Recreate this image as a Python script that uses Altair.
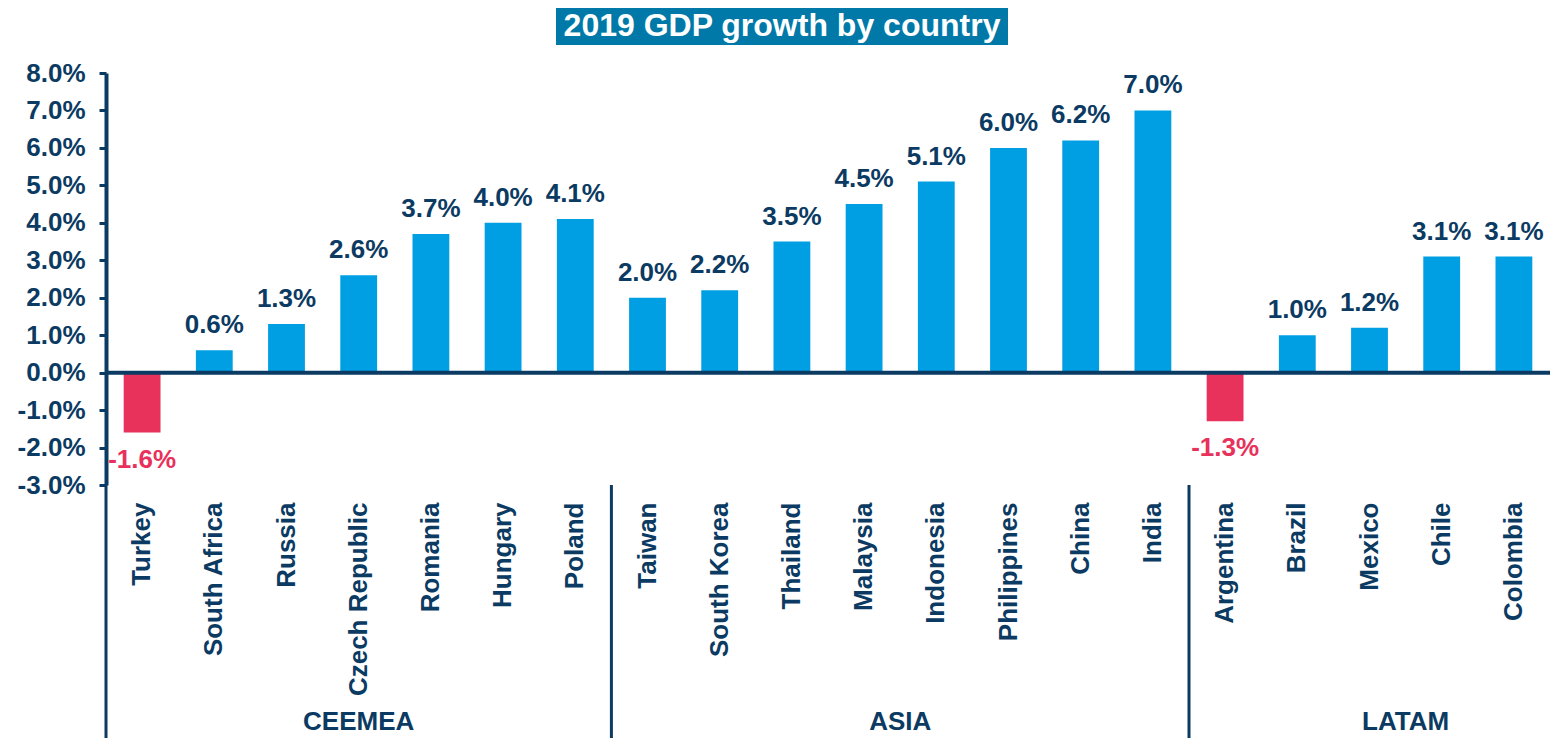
import altair as alt
import pandas as pd

# ---------------- data ----------------
countries = ["Turkey", "South Africa", "Russia", "Czech Republic", "Romania", "Hungary", "Poland",
             "Taiwan", "South Korea", "Thailand", "Malaysia", "Indonesia", "Philippines", "China", "India",
             "Argentina", "Brazil", "Mexico", "Chile", "Colombia"]
growth = [-1.6, 0.6, 1.3, 2.6, 3.7, 4.0, 4.1,
          2.0, 2.2, 3.5, 4.5, 5.1, 6.0, 6.2, 7.0,
          -1.3, 1.0, 1.2, 3.1, 3.1]
regions = ["CEEMEA"] * 7 + ["ASIA"] * 8 + ["LATAM"] * 5

group_names = ["CEEMEA", "ASIA", "LATAM"]
group_anchor = ["Czech Republic", "Malaysia", "Mexico"]
group_band_pos = [0.5, 1.0, 1.0]
group_first = ["Turkey", "Taiwan", "Argentina"]

y_ticks = [-3, -2, -1, 0, 1, 2, 3, 4, 5, 6, 7, 8]
title_text = "2019 GDP growth by country"

# ---------------- style ----------------
NAVY = "#0b3a62"
BLUE = "#009fe3"
RED = "#e8315b"
TITLE_BG = "#0079a8"
FONT = "Liberation Sans"
FS = 26

W, H = 1444, 412

df = pd.DataFrame({"country": countries, "growth": growth, "region": regions})
df["sign"] = ["neg" if v < 0 else "pos" for v in growth]

xscale = alt.Scale(domain=countries, paddingInner=0, paddingOuter=0)
yscale = alt.Scale(domain=[-3, 8], nice=False, zero=False)

pct_expr_axis = "replace(format(datum.value, '.1f'), '\u2212', '-') + '%'"
pct_expr_lab = "replace(format(datum.growth, '.1f'), '\u2212', '-') + '%'"

xaxis = alt.Axis(title=None, domain=False, ticks=False, labelAngle=-90,
                 labelPadding=17, labelFontSize=FS, labelFontWeight="bold",
                 labelColor=NAVY, labelFont=FONT, labelLimit=400,
                 labelOverlap=False)
yaxis = alt.Axis(title=None, values=y_ticks, grid=False,
                 labelExpr=pct_expr_axis, labelOverlap=False, labelBound=False,
                 labelFontSize=FS, labelFontWeight="bold", labelColor=NAVY,
                 labelFont=FONT, labelPadding=14, tickSize=7, tickWidth=3,
                 tickColor=NAVY, domainColor=NAVY, domainWidth=4)


def xq(field="country", bp=None):
    kw = {}
    if bp is not None:
        kw["bandPosition"] = bp
    return alt.X(f"{field}:N", scale=xscale, sort=None, axis=xaxis, **kw)


def yq(field):
    return alt.Y(f"{field}:Q", scale=yscale, axis=yaxis)


base = alt.Chart(df)

bars = base.mark_bar(width=alt.RelativeBandSize(0.51)).encode(
    x=xq(),
    y=yq("growth"),
    color=alt.Color("sign:N", scale=alt.Scale(domain=["pos", "neg"], range=[BLUE, RED]),
                    legend=None),
)

pos_labels = base.transform_filter("datum.growth >= 0").transform_calculate(
    label=pct_expr_lab
).mark_text(font=FONT, fontSize=FS, fontWeight="bold", color=NAVY,
            baseline="alphabetic", dy=-17).encode(
    x=xq(), y=yq("growth"), text="label:N",
)

neg_labels = base.transform_filter("datum.growth < 0").transform_calculate(
    label=pct_expr_lab
).mark_text(font=FONT, fontSize=FS, fontWeight="bold", color=RED,
            baseline="alphabetic", dy=35).encode(
    x=xq(), y=yq("growth"), text="label:N",
)

zero_line = alt.Chart(pd.DataFrame({"z": [0]})).mark_rule(
    color=NAVY, strokeWidth=4).encode(y=yq("z"))

sep_df = pd.DataFrame({"country": group_first, "y0": [-3] * 3, "y1": [-10] * 3})
separators = alt.Chart(sep_df).mark_rule(color=NAVY, strokeWidth=3).encode(
    x=xq(bp=0), y=yq("y0"), y2="y1:Q",
)

group_layers = []
for name, anchor, bp in zip(group_names, group_anchor, group_band_pos):
    gdf = pd.DataFrame({"country": [anchor], "name": [name], "gy": [-9.55]})
    group_layers.append(
        alt.Chart(gdf).mark_text(font=FONT, fontSize=FS, fontWeight="bold", color=NAVY,
                                 baseline="alphabetic", align="center").encode(
            x=xq(bp=bp), y=yq("gy"), text="name:N",
        )
    )

tdf = pd.DataFrame({"t": [title_text]})
title_box = alt.Chart(tdf).mark_rect(color=TITLE_BG).encode(
    x=alt.value(450), x2=alt.value(902), y=alt.value(-72), y2=alt.value(-28))
title_txt = alt.Chart(tdf).mark_text(font=FONT, fontSize=32, fontWeight="bold",
                                     color="white", baseline="middle", align="center").encode(
    x=alt.value(676), y=alt.value(-47), text="t:N")

chart = alt.layer(
    bars, zero_line, separators, pos_labels, neg_labels, *group_layers, title_box, title_txt
).properties(
    width=W, height=H,
    padding={"left": 98, "top": 65, "right": 0, "bottom": 253},
    autosize=alt.AutoSizeParams(type="none"),
).configure(font=FONT).configure_view(strokeWidth=0, stroke="transparent")

chart.save("out.html", embed_options={"renderer": "svg", "actions": False})
